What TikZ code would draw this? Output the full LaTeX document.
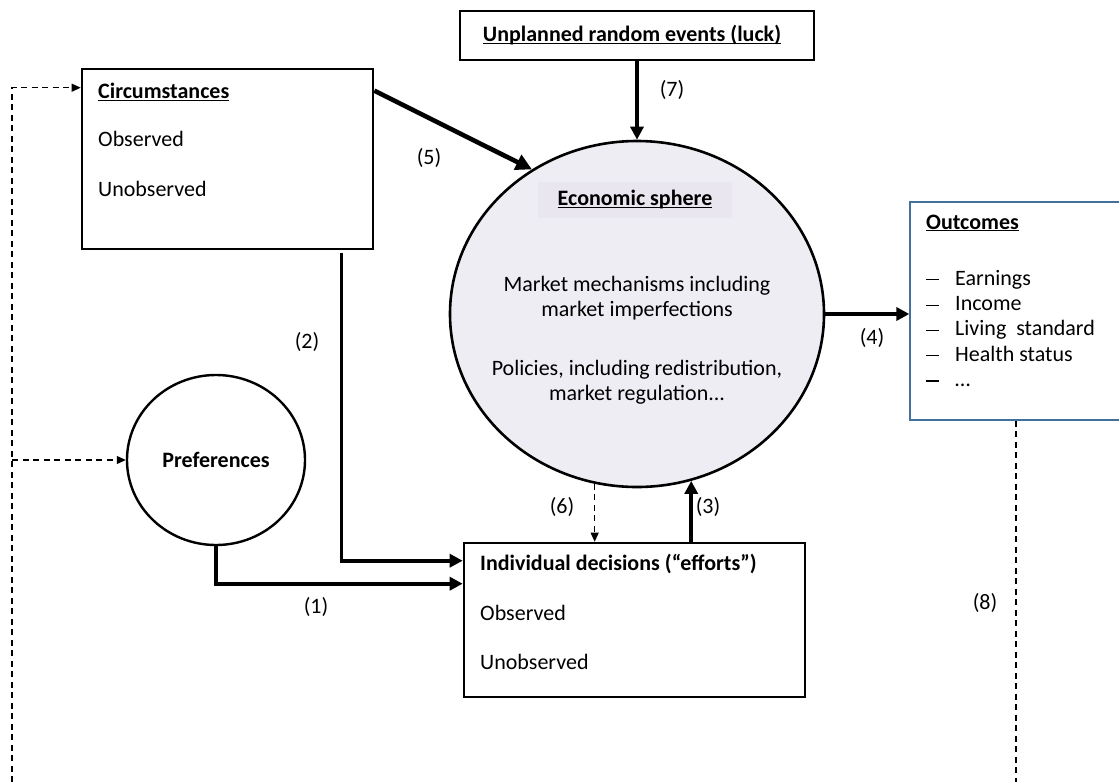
\documentclass[tikz,border=0pt]{standalone}
\usepackage{fontspec}
\setmainfont{Carlito}
\usetikzlibrary{arrows.meta,calc,positioning,shapes.geometric}

\definecolor{spherefill}{RGB}{239,237,244}
\definecolor{spherelbl}{RGB}{233,230,239}
\definecolor{outblue}{RGB}{65,113,156}

\newcommand{\undl}[1]{\underline{\smash{#1}}\vphantom{#1}}
\newcommand{\odash}{\makebox[29pt][l]{\rule[0.22em]{13pt}{1.2pt}}}

\tikzset{
	txt/.style={font=\fontsize{22}{25.5}\selectfont, inner sep=0pt},
	box/.style={draw, line width=2.6pt, inner sep=0pt},
	flow/.style={line width=3.6pt, -{Triangle[length=13pt,width=13pt]}},
	fdash/.style={line width=1.1pt, dash pattern=on 6pt off 4.5pt},
	fback/.style={fdash, -{Triangle[length=9pt,width=8pt]}}
}

\begin{document}
\begin{tikzpicture}[x=1pt, y=-1pt]
		\fill[white] (0,0) rectangle (1119,782);
		\useasboundingbox (0,0) rectangle (1119,782);
		% boxes
		\node[box, minimum width=291pt, minimum height=180pt] (circ) at (227.5,159) {};
		\node[draw, line width=1.3pt, minimum width=354pt, minimum height=49pt] (luck) at (637,35.5) {};
		\node[box, minimum width=341pt, minimum height=154pt] (dec) at (634.5,620) {};
		\node[draw=outblue, line width=1.3pt, minimum width=230pt, minimum height=218pt] (outc) at (1025,311) {};
		\node[box, ellipse, line width=2.4pt, minimum width=178pt, minimum height=170pt, txt] (pref) at (216,460) {\textbf{Preferences}};
		% the economic sphere
		\node[box, ellipse, fill=spherefill, minimum width=374pt, minimum height=346pt] (econ) at (637,314) {};
		\node[fill=spherelbl, minimum width=194pt, minimum height=36pt, txt] (econlbl) at (635,200) {\textbf{\undl{Economic sphere}}};
		\node[txt, align=center] (mkt) at (637,298) {Market mechanisms including\\market imperfections};
		\node[txt, align=center] (pol) at (637,382) {Policies, including redistribution,\\market regulation...};
		% texts in the boxes
		\node[txt, anchor=west] (circt) at (98,92) {\textbf{\undl{Circumstances}}};
		\node[txt, anchor=west] (circo) at (98,139) {Observed};
		\node[txt, anchor=west] (circu) at (98,189) {Unobserved};
		\node[txt] (luckt) at (632,35) {\textbf{\undl{Unplanned random events (luck)}}};
		\node[txt, anchor=west] (dect) at (480,564) {\textbf{Individual decisions (“efforts”)}};
		\node[txt, anchor=west] (deco) at (480,613) {Observed};
		\node[txt, anchor=west] (decu) at (480,662) {Unobserved};
		\node[txt, anchor=west] (outt) at (926,223) {\textbf{\undl{Outcomes}}};
		\foreach \entry [count=\i] in {Earnings, Income, Living\ \ standard, Health status, …}{
			\node[txt, anchor=base west] (outi\i) at (926,260+25.3*\i) {\odash\entry};
		}
		% connectors
		\draw[flow, line width=4.6pt, -{Triangle[length=16pt,width=16pt]}] ($(circ.north east)+(0,23)$) -- (econ.126);
		\draw[flow, line width=3.2pt] (luck.south) -- (econ.north);
		\draw[flow] (econ.east) -- (econ.east -| outc.west);
		\draw[flow] ($(circ.south east)+(-33,3)$) |- ($(dec.north west)+(0,19)$);
		\draw[flow] (pref.south) |- ($(dec.north west)+(0,42)$);
		\draw[flow] (econ.-72 |- dec.north) -- (econ.-72);
		\draw[fback] (econ.-104) -- (econ.-104 |- dec.north);
		% feedback
		\coordinate (fbl) at (12,782);
		\coordinate (fbr) at (1016,782);
		\draw[fback] (fbl) |- ($(circ.north west)+(0,20)$);
		\draw[fback] (fbl |- pref.west) -- (pref.west);
		\draw[fdash] (outc.south -| fbr) -- (fbr);
		% labels
		\node[txt] (l1) at (316,607) {(1)};
		\node[txt] (l2) at (307,342) {(2)};
		\node[txt] (l3) at (708,507) {(3)};
		\node[txt] (l4) at (872,338) {(4)};
		\node[txt] (l5) at (429,158) {(5)};
		\node[txt] (l6) at (562,507) {(6)};
		\node[txt] (l7) at (672,90) {(7)};
		\node[txt] (l8) at (985,603) {(8)};
	\end{tikzpicture}
\end{document}
